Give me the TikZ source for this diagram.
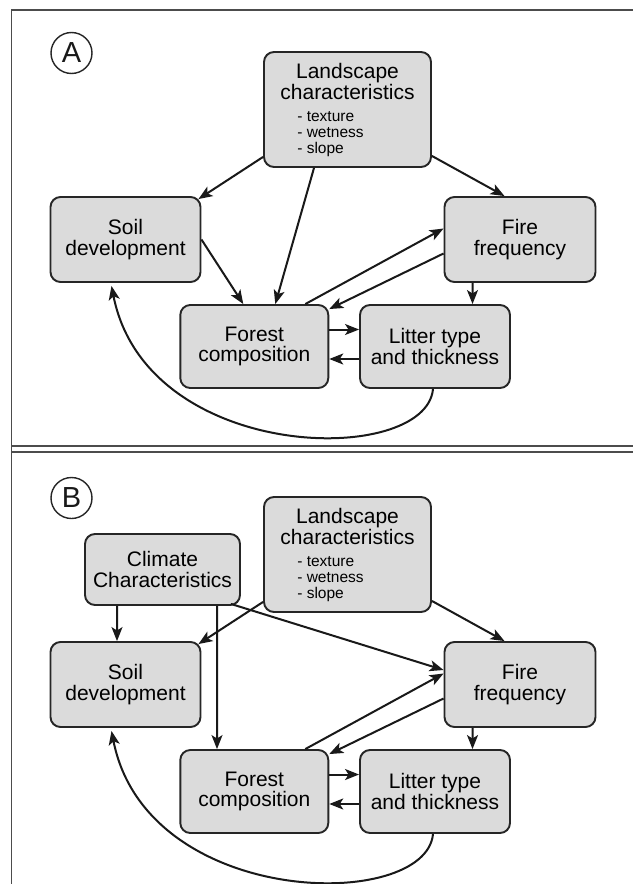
\documentclass[tikz,border=0pt]{standalone}
\usepackage{fontspec}
\setmainfont{Liberation Sans}
\usetikzlibrary{arrows.meta}
\newcommand{\mainfs}{\fontsize{21bp}{20.5bp}\selectfont}
\newcommand{\smallfs}{\fontsize{15.5bp}{16bp}\selectfont}
\tikzset{
  box/.style={draw=black!85, line width=1.9bp, fill=black!14, rounded corners=10bp,
    inner sep=0pt, align=center, font=\mainfs, text=black},
  arr/.style={draw=black!90, line width=2bp, -{Stealth[length=14bp,width=11bp,inset=3.5bp]}},
  lbl/.style={circle, draw=black!85, line width=1.4bp, minimum size=41bp, inner sep=0pt,
    font=\fontsize{29bp}{29bp}\selectfont, text=black!90},
  frame/.style={draw=black!70, line width=1.1bp},
}
\newcommand{\drawpanel}[3]{%
\begin{scope}[shift={(0,#2)}]
  \node[lbl] (P#1) at (71.5,53) {#3};
  \node[box, minimum width=167bp, minimum height=115bp] (L#1) at (347.5,109.5)
    {\raisebox{0pt}[18bp][0pt]{}Landscape\\characteristics\\[2bp]{\smallfs\begin{tabular}[t]{@{}l@{}}- texture\\- wetness\\- slope\end{tabular}\hspace*{34bp}}};
  \node[box, minimum width=150bp, minimum height=85bp] (S#1) at (125.5,239.5) {Soil\\development};
  \node[box, minimum width=151bp, minimum height=85bp] (F#1) at (520,239.5) {Fire\\frequency};
  \node[box, minimum width=148bp, minimum height=83bp] (C#1) at (254.3,346.5) {Forest\\composition};
  \node[box, minimum width=150bp, minimum height=83bp] (T#1) at (435,346.5) {Litter type\\and thickness};
  \draw[arr] ([yshift=11bp]L#1.south west) -- ([xshift=-3bp,yshift=-3bp]S#1.north east);
  \draw[arr] ([yshift=12bp]L#1.south east) -- ([xshift=-15.5bp]F#1.north);
  \draw[arr] ([xshift=51bp]C#1.north) -- ([yshift=11bp]F#1.west);
  \draw[arr] ([yshift=-14bp]F#1.west) -- ([yshift=-5bp]C#1.north east);
  \draw[arr] ([xshift=-47.5bp]F#1.south) -- ([xshift=37.5bp]T#1.north);
  \draw[arr] ([yshift=17bp]C#1.east) -- ([yshift=17bp]T#1.west);
  \draw[arr] ([yshift=-12.5bp]T#1.west) -- ([yshift=-12.5bp]C#1.east);
  \draw[arr] ([xshift=-2bp]T#1.south) .. controls +(-7,78) and +(35,178) .. ([xshift=-14bp,yshift=-3bp]S#1.south);
\end{scope}}
\begin{document}
\begin{tikzpicture}[x=1bp,y=-1bp]
  \fill[white] (0,0) rectangle (633,884);
  \useasboundingbox (0,0) rectangle (633,884);
  \draw[frame] (11.5,884) -- (11.5,10) -- (633,10);
  \draw[frame] (11.5,446) -- (633,446);
  \draw[frame] (11.5,452) -- (633,452);
  % Panel A
  \drawpanel{A}{0}{A}
  \draw[arr] ([xshift=-33.5bp]LA.south) -- ([xshift=21bp]CA.north);
  \draw[arr] (SA.east) -- ([xshift=-11bp]CA.north);
  % Panel B
  \drawpanel{B}{445}{B}
  \node[box, minimum width=155bp, minimum height=71bp] (KB) at (162.5,569.5) {Climate\\Characteristics};
  \draw[arr] ([xshift=-45.5bp]KB.south) -- ([xshift=-8.5bp]SB.north);
  \draw[arr] ([xshift=54.5bp]KB.south) -- ([xshift=-37.3bp]CB.north);
  \draw[arr] ([xshift=-10bp,yshift=2bp]KB.south east) -- ([yshift=14.5bp]FB.west);
\end{tikzpicture}
\end{document}
